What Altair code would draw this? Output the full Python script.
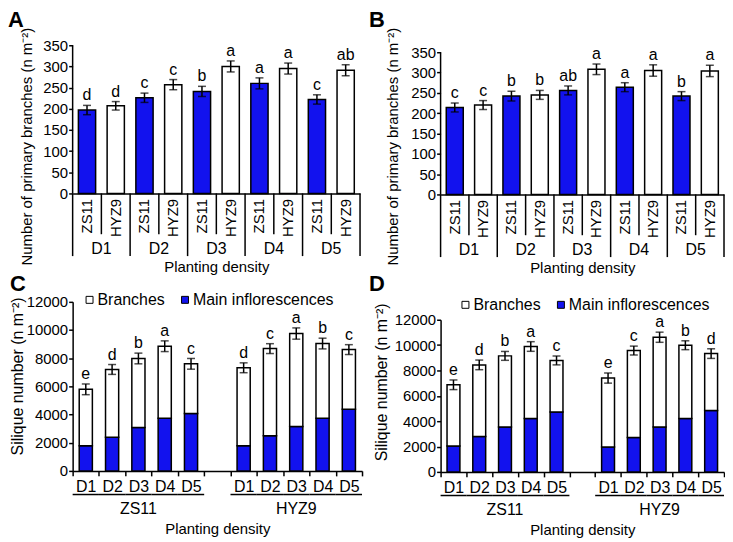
import altair as alt
import pandas as pd

BLUE = "#1212ee"
FONT = "Liberation Sans"
densities = ["D1", "D2", "D3", "D4", "D5"]
genotypes = ["ZS11", "HYZ9"]

# Panel A - primary branches (n m-2)
a_zs11 = [197, 226, 241, 260, 222]
a_zs11_err = [11, 11, 12, 13, 11]
a_zs11_sig = ["d", "c", "b", "a", "c"]
a_hyz9 = [207, 257, 300, 295, 291]
a_hyz9_err = [10, 12, 13, 13, 13]
a_hyz9_sig = ["d", "c", "a", "a", "ab"]

# Panel B - primary branches (n m-2)
b_zs11 = [214, 242, 256, 264, 242]
b_zs11_err = [11, 12, 11, 11, 11]
b_zs11_sig = ["c", "b", "ab", "a", "b"]
b_hyz9 = [220, 245, 308, 305, 304]
b_hyz9_err = [11, 11, 13, 14, 14]
b_hyz9_sig = ["c", "b", "a", "a", "a"]

# Panel C - silique number (n m-2)
c_zs11_total = [5790, 7200, 7980, 8850, 7600]
c_zs11_main = [1790, 2380, 3080, 3740, 4070]
c_zs11_err = [380, 350, 380, 380, 380]
c_zs11_sig = ["e", "d", "b", "a", "c"]
c_hyz9_total = [7320, 8680, 9750, 9040, 8610]
c_hyz9_main = [1790, 2490, 3150, 3740, 4370]
c_hyz9_err = [350, 350, 400, 380, 350]
c_hyz9_sig = ["d", "c", "a", "b", "c"]

# Panel D - silique number (n m-2)
d_zs11_total = [6870, 8440, 9150, 9890, 8790]
d_zs11_main = [2040, 2800, 3550, 4210, 4730]
d_zs11_err = [380, 380, 350, 380, 350]
d_zs11_sig = ["e", "d", "b", "a", "c"]
d_hyz9_total = [7400, 9570, 10620, 9990, 9330]
d_hyz9_main = [1960, 2720, 3550, 4210, 4840]
d_hyz9_err = [400, 350, 400, 350, 380]
d_hyz9_sig = ["e", "c", "a", "b", "d"]

parts = ["Branches", "Main inflorescences"]
LW = 1.5
FS = 16
AX = dict(labelFont=FONT, titleFont=FONT, labelColor="black", titleColor="black",
          titleFontWeight="normal", domainColor="black", tickColor="black",
          domainWidth=LW, tickWidth=LW, grid=False)


def text_layer(txt, dx, dy, **kw):
    return alt.Chart(pd.DataFrame({"t": [txt]})).mark_text(font=FONT, **kw).encode(
        x=alt.value(dx), y=alt.value(dy), text="t:N")


def letter_layer(letter, dx, dy):
    return text_layer(letter, dx, dy, fontSize=22, fontWeight="bold", align="left", baseline="top")


def ytitle_layer(txt, dx, dy, size):
    return text_layer(txt, dx, dy, fontSize=size, angle=270, align="center", baseline="middle")


def branch_panel(zs, zs_e, zs_s, hy, hy_e, hy_s, letter, W, H, ymax, ldx, ldy, tdx, tdy):
    rows = []
    for i, d in enumerate(densities):
        for g, v, e, s in (("ZS11", zs[i], zs_e[i], zs_s[i]), ("HYZ9", hy[i], hy_e[i], hy_s[i])):
            rows.append({"key": f"{d} {g}", "dens": d, "geno": g, "value": v,
                         "lo": v - e, "hi": v + e, "sig": s})
    df = pd.DataFrame(rows)
    keys = df["key"].tolist()
    xs = alt.Scale(domain=keys, paddingInner=0, paddingOuter=0)
    ys = alt.Scale(domain=[0, ymax], nice=False)
    xax = alt.Axis(title="Planting density", labelExpr="split(datum.label, ' ')[1]",
                   labelAngle=270, labelAlign="right", labelBaseline="middle",
                   labelPadding=5, ticks=False, labelOverlap=False, titlePadding=23,
                   labelFontSize=15, titleFontSize=15, **AX)
    yax = alt.Axis(values=list(range(0, 351, 50)), title=None, tickSize=4, labelPadding=1,
                   labelFontSize=15, labelOverlap=False, domain=False, **AX)
    X = lambda **kw: alt.X("key:N", scale=xs, axis=xax, **kw)
    Y = lambda f: alt.Y(f, scale=ys, axis=yax)
    base = alt.Chart(df)
    bars = base.mark_bar(width=alt.RelativeBandSize(0.6), stroke="black", strokeWidth=LW).encode(
        x=X(), y=Y("value:Q"),
        color=alt.Color("geno:N", scale=alt.Scale(domain=genotypes, range=[BLUE, "white"]), legend=None),
    )
    # y axis line running from 0 to 350 only
    yline = alt.Chart(pd.DataFrame({"y0": [0], "y1": [350]})).mark_rule(
        strokeWidth=LW, color="black").encode(x=alt.value(0), y=Y("y0:Q"), y2="y1:Q")
    err = base.mark_rule(strokeWidth=LW, color="black").encode(x=X(), y=Y("lo:Q"), y2="hi:Q")
    cap_hi = base.mark_tick(size=8, thickness=LW, color="black").encode(x=X(), y=Y("hi:Q"))
    cap_lo = base.mark_tick(size=8, thickness=LW, color="black").encode(x=X(), y=Y("lo:Q"))
    sig = base.mark_text(baseline="bottom", dy=-2, fontSize=FS, font=FONT).encode(
        x=X(), y=Y("hi:Q"), text="sig:N")
    hy_df = df[df["geno"] == "HYZ9"]
    zs_df = df[df["geno"] == "ZS11"]
    sep_short = alt.Chart(hy_df).mark_rule(strokeWidth=LW, color="black").encode(
        x=X(bandPosition=0), y=alt.value(H), y2=alt.value(H + 41))
    sep_long = alt.Chart(zs_df).mark_rule(strokeWidth=LW, color="black").encode(
        x=X(bandPosition=0), y=alt.value(H), y2=alt.value(H + 63))
    sep_end = alt.Chart(zs_df.head(1)).mark_rule(strokeWidth=LW, color="black").encode(
        x=alt.value(W), y=alt.value(H), y2=alt.value(H + 63))
    dlab = alt.Chart(hy_df).mark_text(fontSize=FS, baseline="middle", font=FONT).encode(
        x=X(bandPosition=0), y=alt.value(H + 56), text="dens:N")
    return alt.layer(bars, yline, err, cap_hi, cap_lo, sig, sep_short, sep_long, sep_end, dlab,
                     letter_layer(letter, ldx, ldy),
                     ytitle_layer("Number of primary branches (n m⁻²)", tdx, tdy, 15)
                     ).properties(width=W, height=H)


def silique_panel(zs_t, zs_m, zs_e, zs_s, hy_t, hy_m, hy_e, hy_s, letter, W, H,
                  ldx, ldy, tdx, tdy, leg_x, leg_y):
    keys = [f"ZS11 {d}" for d in densities] + ["gap"] + [f"HYZ9 {d}" for d in densities]
    stack_rows, tot_rows = [], []
    for g, tt, mm, ee, ss in (("ZS11", zs_t, zs_m, zs_e, zs_s), ("HYZ9", hy_t, hy_m, hy_e, hy_s)):
        for i, d in enumerate(densities):
            k = f"{g} {d}"
            stack_rows.append({"key": k, "part": "Main inflorescences", "ord": 0, "count": mm[i]})
            stack_rows.append({"key": k, "part": "Branches", "ord": 1, "count": tt[i] - mm[i]})
            tot_rows.append({"key": k, "geno": g, "dens": d, "total": tt[i],
                             "lo": tt[i] - ee[i], "hi": tt[i] + ee[i], "sig": ss[i]})
    sdf = pd.DataFrame(stack_rows)
    tdf = pd.DataFrame(tot_rows)
    xs = alt.Scale(domain=keys, paddingInner=0, paddingOuter=0)
    ys = alt.Scale(domain=[0, 12000])
    xax = alt.Axis(title="Planting density",
                   labelExpr="datum.label == 'gap' ? '' : split(datum.label, ' ')[1]",
                   labelAngle=0, tickBand="extent", tickSize=5, labelPadding=3,
                   labelOverlap=False, titlePadding=27, labelFontSize=16, titleFontSize=15, **AX)
    yax = alt.Axis(values=list(range(0, 12001, 2000)), format="d", title=None,
                   tickSize=4, labelPadding=1, labelFontSize=15, labelOverlap=False, **AX)
    X = lambda **kw: alt.X("key:N", scale=xs, axis=xax, **kw)
    Y = lambda f, **kw: alt.Y(f, scale=ys, axis=yax, **kw)
    bars = alt.Chart(sdf).mark_bar(width=alt.RelativeBandSize(0.5), stroke="black", strokeWidth=LW).encode(
        x=X(),
        y=Y("count:Q", stack="zero"),
        color=alt.Color("part:N", scale=alt.Scale(domain=parts, range=["white", BLUE]),
                        legend=alt.Legend(orient="none", legendX=leg_x, legendY=leg_y,
                                          direction="horizontal", title=None, symbolType="square",
                                          symbolSize=49, symbolStrokeColor="black",
                                          symbolStrokeWidth=1, labelFontSize=FS, labelFont=FONT,
                                          labelColor="black", columnPadding=12, labelOffset=0,
                                          padding=0)),
        order=alt.Order("ord:Q"),
    )
    base = alt.Chart(tdf)
    err = base.mark_rule(strokeWidth=LW, color="black").encode(x=X(), y=Y("lo:Q"), y2="hi:Q")
    cap_hi = base.mark_tick(size=8, thickness=LW, color="black").encode(x=X(), y=Y("hi:Q"))
    cap_lo = base.mark_tick(size=8, thickness=LW, color="black").encode(x=X(), y=Y("lo:Q"))
    sig = base.mark_text(baseline="bottom", dy=-2, fontSize=FS, font=FONT).encode(
        x=X(), y=Y("hi:Q"), text="sig:N")
    underline = base.mark_bar(width=alt.RelativeBandSize(1.0), color="black").encode(
        x=X(), y=alt.value(H + 23), y2=alt.value(H + 24.5))
    glab = alt.Chart(tdf[tdf["dens"] == "D3"]).mark_text(fontSize=FS, baseline="middle", font=FONT).encode(
        x=X(), y=alt.value(H + 38), text="geno:N")
    return alt.layer(bars, err, cap_hi, cap_lo, sig, underline, glab,
                     letter_layer(letter, ldx, ldy),
                     ytitle_layer("Silique number (n m⁻²)", tdx, tdy, 16)
                     ).properties(width=W, height=H)


A = branch_panel(a_zs11, a_zs11_err, a_zs11_sig, a_hyz9, a_hyz9_err, a_hyz9_sig,
                 "A", 289, 149, 350, -65, -35, -46, 102)
B = branch_panel(b_zs11, b_zs11_err, b_zs11_sig, b_hyz9, b_hyz9_err, b_hyz9_sig,
                 "B", 285, 150, 350 * 150 / 143, -72, -35, -48, 102)
C = silique_panel(c_zs11_total, c_zs11_main, c_zs11_err, c_zs11_sig,
                  c_hyz9_total, c_hyz9_main, c_hyz9_err, c_hyz9_sig,
                  "C", 291, 170, -63, -28, -55, 75, 9, -10)
D = silique_panel(d_zs11_total, d_zs11_main, d_zs11_err, d_zs11_sig,
                  d_hyz9_total, d_hyz9_main, d_hyz9_err, d_hyz9_sig,
                  "D", 285, 153, -72, -46, -59, 63, 17, -23)

left = alt.vconcat(A, C, spacing=-2).resolve_scale(color="independent")
right = alt.vconcat(B, D, spacing=-3).resolve_scale(color="independent")

chart = alt.hconcat(left, right, spacing=6).resolve_scale(color="independent").properties(
    padding=0
).configure_view(stroke=None).configure_text(font=FONT, color="black")

chart.save("out.html", embed_options={"renderer": "svg", "actions": False})
